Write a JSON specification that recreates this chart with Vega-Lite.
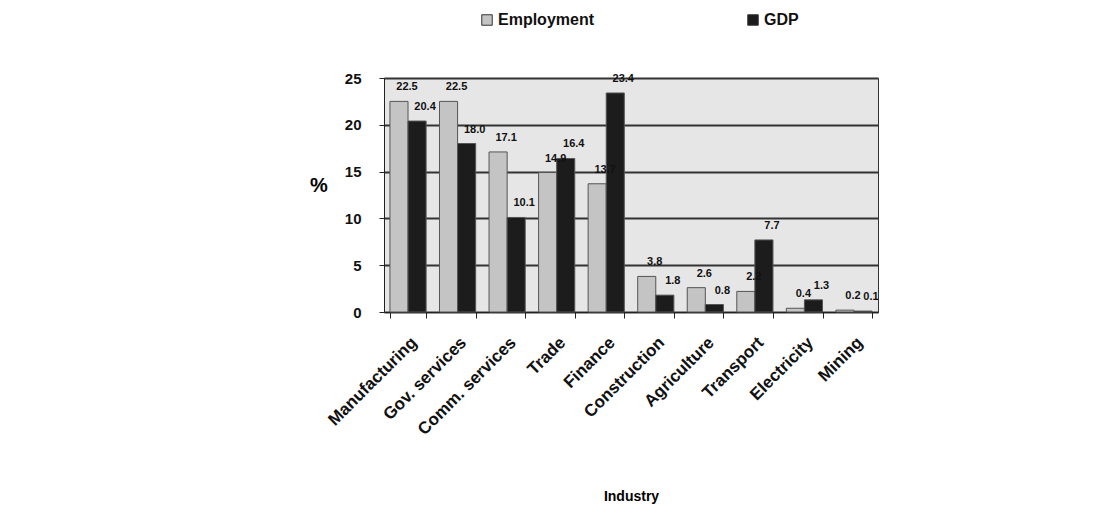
{
  "$schema": "https://vega.github.io/schema/vega-lite/v6.json",
  "autosize": "none",
  "width": 494,
  "height": 234,
  "padding": {"left": 384, "top": 78, "right": 220, "bottom": 212},
  "background": "white",
  "data": {"values": [
    {"industry": "Manufacturing", "series": "Employment", "value": 22.5},
    {"industry": "Manufacturing", "series": "GDP", "value": 20.4},
    {"industry": "Gov. services", "series": "Employment", "value": 22.5},
    {"industry": "Gov. services", "series": "GDP", "value": 18.0},
    {"industry": "Comm. services", "series": "Employment", "value": 17.1},
    {"industry": "Comm. services", "series": "GDP", "value": 10.1},
    {"industry": "Trade", "series": "Employment", "value": 14.9},
    {"industry": "Trade", "series": "GDP", "value": 16.4},
    {"industry": "Finance", "series": "Employment", "value": 13.7},
    {"industry": "Finance", "series": "GDP", "value": 23.4},
    {"industry": "Construction", "series": "Employment", "value": 3.8},
    {"industry": "Construction", "series": "GDP", "value": 1.8},
    {"industry": "Agriculture", "series": "Employment", "value": 2.6},
    {"industry": "Agriculture", "series": "GDP", "value": 0.8},
    {"industry": "Transport", "series": "Employment", "value": 2.2},
    {"industry": "Transport", "series": "GDP", "value": 7.7},
    {"industry": "Electricity", "series": "Employment", "value": 0.4},
    {"industry": "Electricity", "series": "GDP", "value": 1.3},
    {"industry": "Mining", "series": "Employment", "value": 0.2},
    {"industry": "Mining", "series": "GDP", "value": 0.1}
  ]},
  "encoding": {
    "x": {"field": "industry", "type": "nominal", "sort": null,
      "scale": {"paddingInner": 0.27, "paddingOuter": 0.12},
      "axis": {"title": "Industry", "labelAngle": -45, "labelFont": "Liberation Sans", "labelFontWeight": "bold", "labelFontSize": 17, "labelColor": "#111", "labelOverlap": false, "titleFont": "Liberation Sans", "titleFontSize": 14, "titleFontWeight": "bold", "titlePadding": 52, "domainColor": "#222", "tickColor": "#222", "tickSize": 6, "tickBand": "extent", "labelPadding": 16, "grid": false}},
    "xOffset": {"field": "series", "type": "nominal"},
    "y": {"field": "value", "type": "quantitative",
      "scale": {"domain": [0, 25]},
      "axis": {"title": "%", "titleAngle": 0, "titleFont": "Liberation Sans", "titleFontSize": 20, "titleFontWeight": "bold", "titlePadding": 26, "values": [0, 5, 10, 15, 20, 25], "labelOverlap": false, "labelFont": "Liberation Sans", "labelFontWeight": "bold", "labelFontSize": 15, "labelColor": "#111", "gridColor": "#333", "gridWidth": 2, "domainColor": "#222", "tickColor": "#222", "labelPadding": 18}}
  },
  "layer": [
    {
      "mark": {"type": "bar", "stroke": "#555", "strokeWidth": 1},
      "encoding": {
        "color": {"field": "series", "type": "nominal",
          "scale": {"domain": ["Employment", "GDP"], "range": ["#c4c4c4", "#1c1c1c"]},
          "legend": {"title": null, "orient": "none", "legendX": 95, "legendY": -66, "direction": "horizontal", "columns": 2, "columnPadding": 150, "symbolType": "square", "symbolSize": 110, "symbolStrokeColor": "#333", "symbolStrokeWidth": 1, "labelFont": "Liberation Sans", "labelFontSize": 16, "labelFontWeight": "bold", "labelColor": "#111", "labelOffset": 3}}
      }
    },
    {
      "mark": {"type": "text", "font": "Liberation Sans", "fontSize": 11, "fontWeight": "bold", "color": "#111", "dx": 8, "dy": -14},
      "encoding": {"text": {"field": "value", "type": "quantitative", "format": ".1f"}}
    }
  ],
  "config": {"view": {"fill": "#e6e6e6", "stroke": "#333", "strokeWidth": 1}}
}
